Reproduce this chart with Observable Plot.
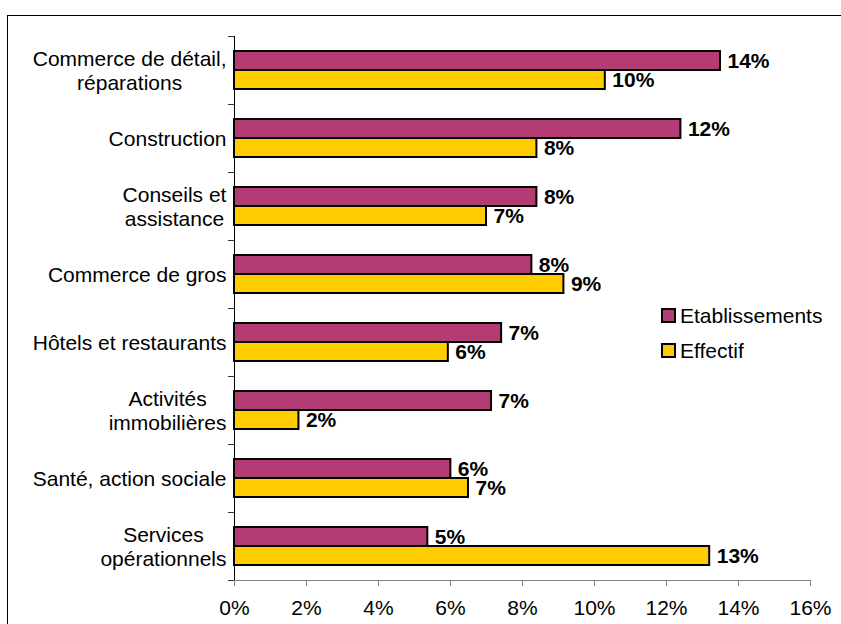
<!DOCTYPE html>
<html><head><meta charset="utf-8">
<script src="https://cdn.jsdelivr.net/npm/d3@7"></script>
<script src="https://cdn.jsdelivr.net/npm/@observablehq/plot@0.6"></script>
<style>
body{margin:0;background:#fff;font-family:"Liberation Sans",Arial,sans-serif;}
#wrap{position:relative;width:841px;height:624px;overflow:hidden;background:#fff;}
#border{position:absolute;left:7px;top:15px;width:900px;height:700px;border:1px solid #000;box-sizing:border-box;}
#chart{position:absolute;left:0;top:0;}
.lg{position:absolute;left:661px;height:21px;line-height:21px;font-size:21px;color:#000;white-space:nowrap;}
.lg span{display:inline-block;width:11px;height:11px;border:2px solid #000;margin-right:4px;vertical-align:0px;}
</style>
</head><body>
<div id="wrap"><div id="border"></div><div id="chart"></div><div id="legend"></div></div>
<script>
const categories = [
  "Commerce de détail,\nréparations",
  "Construction",
  "Conseils et\nassistance",
  "Commerce de gros",
  "Hôtels et restaurants",
  "Activités\nimmobilières",
  "Santé, action sociale",
  "Services\nopérationnels"
];
const seriesNames = ["Etablissements", "Effectif"];
const seriesColors = ["#B43C74", "#FFCC00"];
const etabValues = [0.135, 0.124, 0.084, 0.0826, 0.0742, 0.0714, 0.0601, 0.0537];
const effectifValues = [0.103, 0.084, 0.070, 0.0915, 0.0594, 0.0179, 0.065, 0.132];
const etabLabels = ["14%", "12%", "8%", "8%", "7%", "7%", "6%", "5%"];
const effectifLabels = ["10%", "8%", "7%", "9%", "6%", "2%", "7%", "13%"];
const xTicks = [0, 0.02, 0.04, 0.06, 0.08, 0.10, 0.12, 0.14, 0.16];

const etab = categories.map((c, i) => ({cat: c, value: etabValues[i], label: etabLabels[i]}));
const eff = categories.map((c, i) => ({cat: c, value: effectifValues[i], label: effectifLabels[i]}));

const FONT = "Liberation Sans, Arial, sans-serif";
const plot = Plot.plot({
  width: 841, height: 624,
  marginLeft: 234, marginRight: 31, marginTop: 36, marginBottom: 44,
  style: {fontFamily: FONT, fontSize: "21px", color: "#000", background: "transparent", overflow: "visible"},
  x: {domain: [0, 0.16], label: null},
  y: {domain: categories, padding: 0, label: null},
  marks: [
    Plot.barX(etab, {x: "value", y: "cat", fill: seriesColors[0], stroke: "#000", strokeWidth: 2, insetTop: 15, insetBottom: 34}),
    Plot.barX(eff, {x: "value", y: "cat", fill: seriesColors[1], stroke: "#000", strokeWidth: 2, insetTop: 34, insetBottom: 15}),
    Plot.text(etab, {x: "value", y: "cat", text: "label", dy: -9.5, dx: 7, textAnchor: "start", fontWeight: "bold", fontSize: 21, fill: "#000"}),
    Plot.text(eff, {x: "value", y: "cat", text: "label", dy: 9.5, dx: 7, textAnchor: "start", fontWeight: "bold", fontSize: 21, fill: "#000"}),
    Plot.ruleX([0], {stroke: "#000"}),
    Plot.frame({anchor: "bottom", stroke: "#808080", insetLeft: -6}),
    Plot.axisX({ticks: xTicks, tickFormat: d3.format(".0%"), tickSize: 6, tickPadding: 14, stroke: "#808080", fill: "#000", label: null}),
    Plot.axisY({tickSize: 0, tickPadding: 8, lineHeight: 1.14, fill: "#000", label: null}),
    Plot.axisY({tickSize: 6, tickFormat: () => "", dy: -34, stroke: "#333", label: null}),
    Plot.axisY({ticks: [categories[categories.length - 1]], tickSize: 6, tickFormat: () => "", dy: 34, stroke: "#333", label: null})
  ]
});
document.getElementById("chart").appendChild(plot);

// center multi-line category labels relative to each other, keeping block right-aligned
plot.querySelectorAll('g[aria-label="y-axis tick label"] text').forEach(t => {
  if (t.querySelectorAll("tspan").length > 1) {
    const w = t.getBBox().width;
    t.setAttribute("text-anchor", "middle");
    const tr = t.getAttribute("transform") || "";
    t.setAttribute("transform", tr + ` translate(${-w / 2},0)`);
  }
});

const legend = document.getElementById("legend");
seriesNames.forEach((name, i) => {
  const d = document.createElement("div");
  d.className = "lg";
  d.style.top = (305 + i * 35) + "px";
  const s = document.createElement("span");
  s.style.background = seriesColors[i];
  d.appendChild(s);
  d.appendChild(document.createTextNode(name));
  legend.appendChild(d);
});
</script>
</body></html>
